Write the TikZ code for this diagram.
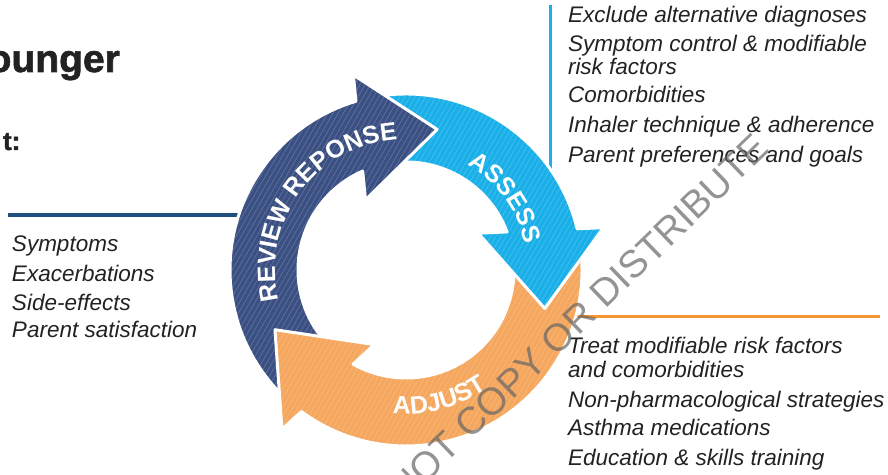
\documentclass[tikz,border=0pt]{standalone}
\usepackage{fontspec}
\setmainfont{Liberation Sans}
\newfontfamily\heavyfont[FakeBold=1.6]{Liberation Sans Bold}
\usetikzlibrary{decorations.text,patterns.meta}
\definecolor{bluearrow}{HTML}{3A4F82}
\definecolor{cyanarrow}{HTML}{19AFE8}
\definecolor{orangearrow}{HTML}{F5A75E}
\definecolor{blueline}{HTML}{1F4E7F}
\definecolor{cyanline}{HTML}{1AAEEA}
\definecolor{orangeline}{HTML}{F7962F}
\definecolor{txt}{HTML}{222222}
% #1 tail angle, #2 tip angle (arrow runs clockwise)
\newcommand\ringarrowpath[2]{(#1:176pt) arc[start angle=#1, end angle={#2+29.03}, radius=176pt]
 -- ({#2+27.6}:202pt) -- (#2:144pt) -- ({#2+42.5}:81pt) -- ({#2+36.15}:108pt)
 arc[start angle={#2+36.15}, end angle=#1, radius=108pt] -- cycle}
\newcommand\ringarrow[3]{%
  \fill[#1, ringarrowstyle] \ringarrowpath{#2}{#3};
  \fill[stripes] \ringarrowpath{#2}{#3};}
\newcommand\ringfont{\fontsize{25}{25}\selectfont\bfseries}
\tikzset{
  ringarrowstyle/.style={draw=white, line width=3pt, line join=round},
  stripes/.style={pattern={Lines[angle=60, distance=4.5pt, line width=0.9pt]},
    pattern color=white, opacity=0.16},
  sidetext/.style={anchor=base west, inner sep=0pt, outer sep=0pt, text=txt,
    font=\fontsize{22.5}{27}\selectfont\itshape},
  ringlabel/.style={decorate, decoration={text along path, text align=center,
    text color=white, text={|\ringfont|#1}}}
}
\begin{document}
\begin{tikzpicture}[x=1pt, y=1pt]
\useasboundingbox (0,0) rectangle (888,474);
\fill[white] (0,0) rectangle (888,474);

% title fragments
\node[anchor=base east, inner sep=0pt, text=txt, font=\fontsize{39}{39}\selectfont\heavyfont] (title) at (120,402) {ounger};
\node[anchor=base east, inner sep=0pt, text=txt, font=\fontsize{26}{26}\selectfont\heavyfont] (sub) at (20.5,324) {t:};

% divider lines
\coordinate (bl1) at (8,259); \coordinate (bl2) at (245,259);
\draw[blueline, line width=4pt] (bl1) -- (bl2);
\coordinate (cl1) at (550,469); \coordinate (cl2) at (550,304);
\draw[cyanline, line width=3pt] (cl1) -- (cl2);
\coordinate (ol1) at (565,157); \coordinate (ol2) at (880,157);
\draw[orangeline, line width=3pt] (ol1) -- (ol2);

% cycle
\begin{scope}[shift={(406,204)}]
  \ringarrow{orangearrow}{8.5}{-155.5}
  \ringarrow{cyanarrow}{101.5}{-15.5}
  \ringarrow{bluearrow}{228.5}{77.5}
  \begin{scope}
    \clip (0,0) -- (189:260pt) arc[start angle=189, end angle=250, radius=260pt] -- cycle;
    \ringarrow{orangearrow}{8.5}{-155.5}
  \end{scope}
  \path[ringlabel={REVIEW REPONSE}] (203.5:131pt) arc[start angle=203.5, end angle=83.5, radius=131pt];
  \path[ringlabel={ASSESS}] (86:122pt) arc[start angle=86, end angle=-14, radius=122pt];
  \path[ringlabel={ADJUST}] (244.6:144pt) arc[start angle=244.6, end angle=324.6, radius=144pt];
\end{scope}

% assess list
\node[sidetext] (a1) at (568,451) {Exclude alternative diagnoses};
\node[sidetext] (a2) at (568,422) {Symptom control \& modifiable};
\node[sidetext] (a3) at (568,399) {risk factors};
\node[sidetext] (a4) at (568,371) {Comorbidities};
\node[sidetext] (a5) at (568,341) {Inhaler technique \& adherence};
\node[sidetext] (a6) at (568,311) {Parent preferences and goals};

% review list
\node[sidetext] (r1) at (12,222) {Symptoms};
\node[sidetext] (r2) at (12,192) {Exacerbations};
\node[sidetext] (r3) at (12,164) {Side-effects};
\node[sidetext] (r4) at (12,136) {Parent satisfaction};

% adjust list
\node[sidetext] (j1) at (568,121) {Treat modifiable risk factors};
\node[sidetext] (j2) at (568,97) {and comorbidities};
\node[sidetext] (j3) at (568,67) {Non-pharmacological strategies};
\node[sidetext] (j4) at (568,39) {Asthma medications};
\node[sidetext] (j5) at (568,9) {Education \& skills training};

% watermark
\node[rotate=44, anchor=base west, inner sep=0pt, text=black!60, opacity=0.7,
  font=\fontsize{38.5}{38.5}\selectfont] (wm) at (355,-78) {DO NOT COPY OR DISTRIBUTE};
\end{tikzpicture}
\end{document}
